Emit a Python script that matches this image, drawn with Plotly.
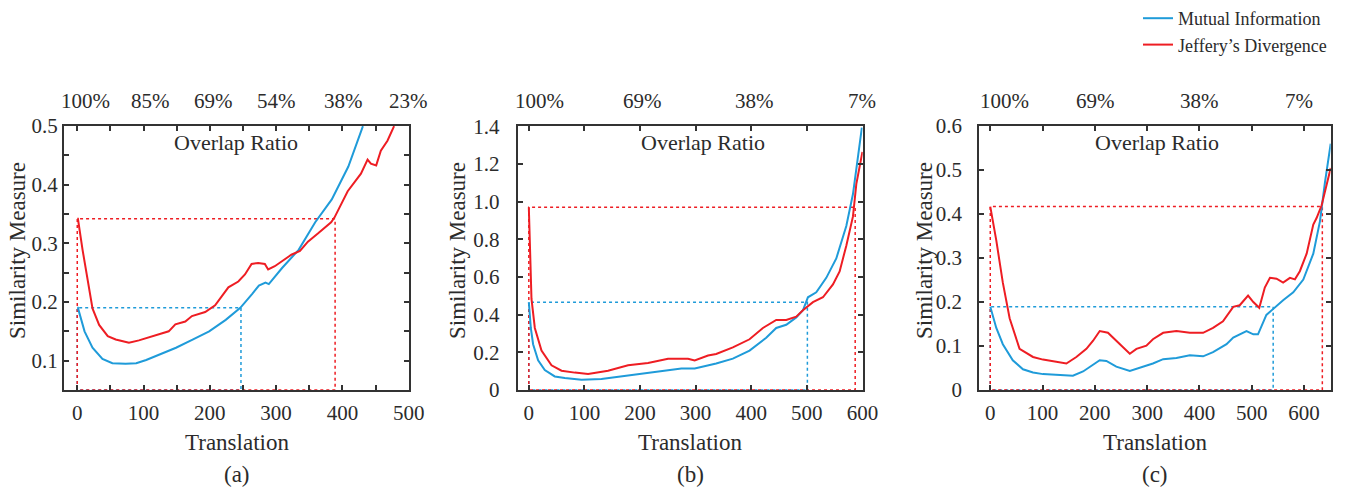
import plotly.graph_objects as go

# ---------------- data ----------------
# Panel (a)
a_mi_x = [0, 1, 11, 23, 38, 53, 73, 89, 104, 124, 149, 174, 199, 224, 246, 264, 274, 284, 289, 309, 334, 359, 384, 409, 431]
a_mi_y = [0.19, 0.19, 0.15, 0.122, 0.103, 0.0955, 0.0945, 0.0955, 0.101, 0.11, 0.122, 0.136, 0.15, 0.1695, 0.19, 0.214, 0.228, 0.233, 0.2305, 0.258, 0.289, 0.336, 0.375, 0.431, 0.5]
a_jd_x = [0, 1, 8, 16, 23, 33, 46, 58, 78, 93, 113, 138, 148, 163, 173, 193, 208, 228, 243, 253, 263, 273, 283, 288, 298, 313, 323, 336, 348, 363, 383, 388, 408, 428, 438, 443, 451, 458, 468, 478]
a_jd_y = [0.342, 0.342, 0.289, 0.233, 0.189, 0.161, 0.1417, 0.136, 0.1306, 0.1345, 0.1417, 0.15, 0.162, 0.1667, 0.176, 0.183, 0.1945, 0.225, 0.235, 0.247, 0.265, 0.2667, 0.265, 0.2556, 0.261, 0.272, 0.2806, 0.287, 0.303, 0.3167, 0.336, 0.344, 0.389, 0.419, 0.443, 0.436, 0.433, 0.458, 0.475, 0.5]
a_mi_level, a_mi_cut = 0.19, 247
a_jd_level, a_jd_cut = 0.342, 389
a_top_pos = [13, 110, 205, 300, 402, 499]
a_top_txt = ["100%", "85%", "69%", "54%", "38%", "23%"]

# Panel (b)
b_mi_x = [0, 3.6, 7.7, 16.7, 28.7, 46.7, 64.7, 94.7, 130.6, 166.5, 202.5, 238.4, 274.4, 298.4, 337, 367, 397, 427, 445, 463, 481, 493, 502, 517, 535, 553, 571, 583, 592, 599]
b_mi_y = [0.466, 0.329, 0.243, 0.157, 0.1056, 0.0716, 0.063, 0.054, 0.0577, 0.0716, 0.085, 0.097, 0.114, 0.114, 0.14, 0.166, 0.209, 0.277, 0.329, 0.346, 0.385, 0.423, 0.492, 0.518, 0.595, 0.698, 0.87, 1.04, 1.23, 1.393]
b_jd_x = [0, 1.8, 4.8, 10.8, 22.8, 40.8, 58.8, 82.7, 106.6, 142.5, 178.5, 214.4, 250.4, 286.3, 298.3, 322.3, 337, 367, 397, 421, 445, 463, 481, 493, 505, 511, 529, 547, 559, 571, 583, 589, 600]
b_jd_y = [0.97, 0.741, 0.483, 0.329, 0.2086, 0.131, 0.102, 0.092, 0.085, 0.102, 0.131, 0.1435, 0.166, 0.166, 0.157, 0.183, 0.191, 0.226, 0.269, 0.329, 0.372, 0.372, 0.389, 0.423, 0.454, 0.466, 0.492, 0.56, 0.629, 0.766, 0.921, 1.093, 1.264]
b_mi_level, b_mi_cut = 0.466, 501
b_jd_level, b_jd_cut = 0.97, 587
b_top_pos = [19, 204, 405, 600]
b_top_txt = ["100%", "69%", "38%", "7%"]

# Panel (c)
c_mi_x = [0, 11.5, 24, 43, 62.5, 81.7, 100.8, 126, 145.5, 158, 177.4, 196.6, 209.3, 222, 241, 266.8, 286, 311, 330.6, 356, 381.6, 407, 426, 451.8, 464.6, 490, 503, 512, 528, 541, 560, 579.4, 598.6, 617.7, 630.5, 640, 651]
c_mi_y = [0.189, 0.141, 0.104, 0.0676, 0.047, 0.0397, 0.036, 0.0346, 0.033, 0.0324, 0.042, 0.0566, 0.0676, 0.066, 0.053, 0.0434, 0.0507, 0.0603, 0.07, 0.0728, 0.0787, 0.0765, 0.086, 0.104, 0.119, 0.134, 0.1265, 0.1265, 0.1706, 0.185, 0.204, 0.222, 0.251, 0.31, 0.384, 0.472, 0.56]
c_jd_x = [0, 11.5, 24, 37, 56, 81.7, 100.8, 126, 145.5, 164.6, 183.8, 196.6, 209.3, 225, 241, 266.8, 279.5, 298.6, 311, 330.6, 356, 381.6, 407, 426, 445, 464.6, 477, 493, 503, 514.4, 525, 534.8, 547.5, 560, 573, 582.6, 592, 605, 617.7, 624, 633.7, 643, 651]
c_jd_y = [0.417, 0.34, 0.244, 0.163, 0.0934, 0.075, 0.069, 0.064, 0.06, 0.075, 0.0934, 0.112, 0.134, 0.13, 0.112, 0.0824, 0.0934, 0.1007, 0.1154, 0.13, 0.134, 0.13, 0.13, 0.141, 0.156, 0.189, 0.1926, 0.2147, 0.2, 0.1868, 0.233, 0.255, 0.253, 0.244, 0.255, 0.2515, 0.27, 0.31, 0.376, 0.391, 0.42, 0.465, 0.505]
c_mi_level, c_mi_cut = 0.189, 541
c_jd_level, c_jd_cut = 0.417, 635
c_top_pos = [28, 201, 400, 590]
c_top_txt = ["100%", "69%", "38%", "7%"]

series_names = ["Mutual Information", "Jeffery\u2019s Divergence"]
panel_labels = ["(a)", "(b)", "(c)"]

# ---------------- style ----------------
BLUE = "#1f9bd9"
RED = "#ee1d23"
TXT = "#2b2b2b"
AX = "#333333"
FONT = "Liberation Serif, Times New Roman, serif"
W, H = 1349, 487

panels = [
    dict(mi=(a_mi_x, a_mi_y), jd=(a_jd_x, a_jd_y), mi_lv=(a_mi_level, a_mi_cut), jd_lv=(a_jd_level, a_jd_cut),
         top=(a_top_pos, a_top_txt), xr=[-20, 500.5], yr=[0.05, 0.5], dom=(64, 409),
         xt=[0, 100, 200, 300, 400, 500], yt=[0.1, 0.2, 0.3, 0.4, 0.5], ytt=["0.1", "0.2", "0.3", "0.4", "0.5"],
         xminor=50, yminor=0.05, ycx=18, ovx=239, stand=0),
    dict(mi=(b_mi_x, b_mi_y), jd=(b_jd_x, b_jd_y), mi_lv=(b_mi_level, b_mi_cut), jd_lv=(b_jd_level, b_jd_cut),
         top=(b_top_pos, b_top_txt), xr=[-20, 600.5], yr=[0, 1.4005], dom=(517.7, 862.7),
         xt=[0, 100, 200, 300, 400, 500, 600], yt=[0, 0.2, 0.4, 0.6, 0.8, 1.0, 1.2, 1.4],
         ytt=["0", "0.2", "0.4", "0.6", "0.8", "1.0", "1.2", "1.4"],
         xminor=None, yminor=None, ycx=458, ovx=314, stand=12),
    dict(mi=(c_mi_x, c_mi_y), jd=(c_jd_x, c_jd_y), mi_lv=(c_mi_level, c_mi_cut), jd_lv=(c_jd_level, c_jd_cut),
         top=(c_top_pos, c_top_txt), xr=[-21, 651], yr=[0, 0.6], dom=(979.3, 1330.7),
         xt=[0, 100, 200, 300, 400, 500, 600], yt=[0, 0.1, 0.2, 0.3, 0.4, 0.5, 0.6],
         ytt=["0", "0.1", "0.2", "0.3", "0.4", "0.5", "0.6"],
         xminor=None, yminor=None, ycx=925, ovx=318, stand=11),
]

fig = go.Figure()
ytop, ybot = 117, 387.5
ann = []

for i, p in enumerate(panels):
    sfx = "" if i == 0 else str(i + 1)
    xa, ya = "x" + sfx, "y" + sfx
    ymin = p["yr"][0]
    # dotted guide rectangles
    for (lv, cut), col in ((p["mi_lv"], BLUE), (p["jd_lv"], RED)):
        fig.add_trace(go.Scatter(x=[0, 0, cut, cut, 0], y=[ymin, lv, lv, ymin, ymin], mode="lines",
                                 line=dict(color=col, width=1.5, dash="dot"), xaxis=xa, yaxis=ya,
                                 showlegend=False, hoverinfo="skip", cliponaxis=False))
    for (xs, ys), col, nm in ((p["mi"], BLUE, series_names[0]), (p["jd"], RED, series_names[1])):
        fig.add_trace(go.Scatter(x=xs, y=ys, mode="lines", line=dict(color=col, width=2),
                                 name=nm, xaxis=xa, yaxis=ya, showlegend=(i == 0)))
    d0, d1 = p["dom"]
    xdict = dict(domain=[d0 / W, d1 / W], range=p["xr"], anchor=ya, tickvals=p["xt"], automargin=False,
                 ticks="inside", ticklen=5, tickwidth=1.5, tickcolor=AX, showline=True, linewidth=2,
                 linecolor=AX, mirror="ticks", showgrid=False, zeroline=False, ticklabelstandoff=3,
                 tickfont=dict(family=FONT, size=21, color=TXT))
    if p["xminor"]:
        xdict["minor"] = dict(dtick=p["xminor"], ticks="inside", ticklen=5, tickwidth=1.5, tickcolor=AX)
    ydict = dict(domain=[(H - ybot) / H, (H - ytop) / H], range=p["yr"], anchor=xa, tickvals=p["yt"],
                 ticktext=p["ytt"], ticks="inside", ticklen=5, tickwidth=1.5, tickcolor=AX, showline=True,
                 linewidth=2, linecolor=AX, mirror="ticks", showgrid=False, zeroline=False, automargin=False,
                 ticklabelstandoff=p["stand"], tickfont=dict(family=FONT, size=21, color=TXT))
    if p["yminor"]:
        ydict["minor"] = dict(dtick=p["yminor"], ticks="inside", ticklen=5, tickwidth=1.5, tickcolor=AX)
    fig.update_layout(**{"xaxis" + sfx: xdict, "yaxis" + sfx: ydict})

    cx = (d0 + d1) / 2 / W
    # top overlap percentages
    for pos, t in zip(*p["top"]):
        ann.append(dict(x=pos, xref=xa, y=(H - 91) / H, yref="paper", text=t, showarrow=False,
                        font=dict(family=FONT, size=21, color=TXT), xanchor="center", yanchor="middle"))
    ann.append(dict(x=p["ovx"], xref=xa, y=(H - 134) / H, yref="paper", text="Overlap Ratio", showarrow=False,
                    font=dict(family=FONT, size=22, color=TXT), xanchor="center", yanchor="middle"))
    ann.append(dict(x=cx, xref="paper", y=(H - 441.5) / H, yref="paper", text="Translation", showarrow=False,
                    font=dict(family=FONT, size=23, color=TXT), xanchor="center", yanchor="middle"))
    ann.append(dict(x=cx, xref="paper", y=(H - 474) / H, yref="paper", text=panel_labels[i], showarrow=False,
                    font=dict(family=FONT, size=23, color=TXT), xanchor="center", yanchor="middle"))
    ann.append(dict(x=p["ycx"] / W, xref="paper", y=(H - 245) / H, yref="paper", text="Similarity Measure",
                    showarrow=False, textangle=-90, font=dict(family=FONT, size=23, color=TXT),
                    xanchor="center", yanchor="middle"))

fig.update_layout(
    width=W, height=H, margin=dict(l=0, r=0, t=0, b=0),
    paper_bgcolor="white", plot_bgcolor="white",
    annotations=ann,
    legend=dict(x=1138 / W, y=1.026, xanchor="left", yanchor="top", bgcolor="rgba(0,0,0,0)",
                font=dict(family=FONT, size=18, color=TXT), itemwidth=30, tracegroupgap=0),
)

fig.write_html("out.html")
